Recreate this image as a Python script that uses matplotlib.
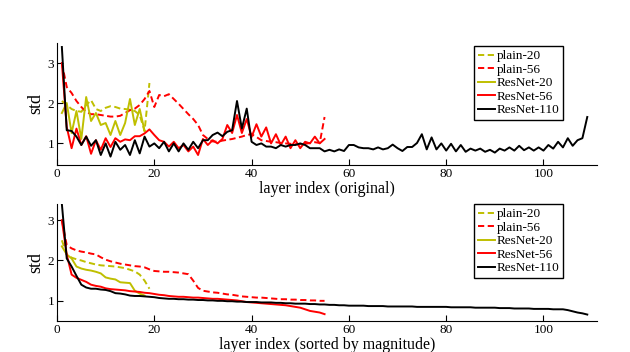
import matplotlib
matplotlib.use("Agg")
import matplotlib.pyplot as plt

plt.rcParams['font.family'] = ['Liberation Serif', 'DejaVu Serif']

# ---- original layer order (top panel) ----
plain20 = [2.05, 1.95, 1.85, 1.8, 1.78, 1.95, 2.07, 1.85, 1.8, 1.88,
           1.92, 1.9, 1.86, 1.85, 1.83, 1.8, 1.7, 1.3, 2.5]
plain56 = [3.0, 2.4, 2.25, 2.05, 1.9, 1.78, 1.72, 1.72, 1.7, 1.68,
           1.66, 1.66, 1.68, 1.75, 1.82, 1.86, 1.95, 2.1, 2.3, 1.9,
           2.2, 2.17, 2.22, 2.1, 1.98, 1.85, 1.72, 1.6, 1.45, 1.2,
           1.1, 1.04, 1.03, 1.06, 1.08, 1.1, 1.13, 1.16, 1.2, 1.22,
           1.15, 1.07, 1.05, 1.03, 1.02, 1.0, 0.99, 0.98, 0.97, 0.97,
           0.98, 1.0, 1.02, 1.0, 1.65]
resnet20 = [1.75, 2.0, 1.25, 1.8, 1.1, 2.15, 1.55, 1.75, 1.45, 1.5,
            1.2, 1.55, 1.2, 1.5, 2.1, 1.45, 1.85, 1.3]
resnet56 = [3.0, 1.4, 0.87, 1.36, 0.95, 1.17, 0.73, 1.07, 0.83, 1.12,
            0.9, 1.12, 1.03, 1.09, 1.07, 1.17, 1.17, 1.24, 1.34, 1.2,
            1.07, 1.03, 0.91, 1.03, 0.87, 0.95, 0.79, 0.91, 0.7, 1.1,
            0.95, 1.07, 0.99, 1.1, 1.45, 1.25, 1.7, 1.25, 1.6, 1.15,
            1.47, 1.16, 1.39, 0.99, 1.22, 0.95, 1.16, 0.87, 1.07, 0.87,
            1.03, 0.99, 1.16, 0.99, 1.1]
resnet110 = [3.4, 1.32, 1.3, 1.16, 0.95, 1.16, 0.93, 1.07, 0.7, 0.99,
             0.66, 1.03, 0.83, 0.95, 0.7, 1.07, 0.74, 1.16, 0.91, 0.99,
             0.87, 1.03, 0.79, 0.99, 0.79, 0.99, 0.83, 1.03, 0.87, 1.07,
             1.07, 1.2, 1.26, 1.17, 1.28, 1.32, 2.05, 1.36, 1.86, 1.03,
             0.95, 0.99, 0.91, 0.91, 0.87, 0.95, 0.91, 0.95, 0.95, 0.99,
             0.95, 0.87, 0.87, 0.87, 0.79, 0.83, 0.79, 0.84, 0.8, 0.95,
             0.95, 0.89, 0.87, 0.87, 0.84, 0.89, 0.84, 0.87, 0.96, 0.87,
             0.8, 0.9, 0.9, 1.0, 1.22, 0.84, 1.14, 0.84, 0.99, 0.81,
             0.98, 0.79, 0.95, 0.78, 0.86, 0.81, 0.86, 0.78, 0.83, 0.76,
             0.86, 0.81, 0.89, 0.81, 0.93, 0.82, 0.89, 0.81, 0.89, 0.81,
             0.95, 0.86, 1.03, 0.89, 1.12, 0.93, 1.07, 1.12, 1.65]

# ---- sorted by magnitude (bottom panel) ----
plain20_s = [2.5, 2.15, 2.07, 2.03, 2.0, 1.96, 1.93, 1.9, 1.88, 1.87,
             1.86, 1.85, 1.83, 1.81, 1.77, 1.73, 1.65, 1.5, 1.3]
plain56_s = [3.0, 2.38, 2.3, 2.25, 2.22, 2.2, 2.17, 2.15, 2.08, 2.02,
             1.98, 1.95, 1.92, 1.9, 1.88, 1.86, 1.85, 1.83, 1.78, 1.74,
             1.73, 1.72, 1.72, 1.71, 1.7, 1.68, 1.66, 1.5, 1.32, 1.25,
             1.23, 1.21, 1.2, 1.18, 1.16, 1.15, 1.13, 1.11, 1.1, 1.09,
             1.08, 1.08, 1.07, 1.06, 1.05, 1.04, 1.04, 1.03, 1.03, 1.02,
             1.02, 1.01, 1.01, 1.0, 1.0]
resnet20_s = [2.35, 2.15, 2.05, 1.85, 1.8, 1.77, 1.75, 1.72, 1.68, 1.58,
              1.55, 1.53, 1.46, 1.45, 1.44, 1.25, 1.18, 1.13]
resnet56_s = [3.0, 2.15, 1.65, 1.57, 1.52, 1.47, 1.4, 1.37, 1.35, 1.31,
              1.29, 1.28, 1.27, 1.26, 1.24, 1.23, 1.22, 1.2, 1.19, 1.17,
              1.15, 1.14, 1.12, 1.11, 1.1, 1.1, 1.09, 1.08, 1.08, 1.07,
              1.06, 1.05, 1.05, 1.04, 1.03, 1.02, 1.01, 0.99, 0.97, 0.96,
              0.95, 0.94, 0.93, 0.92, 0.91, 0.9, 0.89, 0.87, 0.85, 0.83,
              0.79, 0.75, 0.73, 0.71, 0.67]
resnet110_s = [3.4, 2.05, 1.85, 1.62, 1.4, 1.33, 1.3, 1.3, 1.28, 1.27,
               1.24, 1.19, 1.18, 1.16, 1.13, 1.12, 1.12, 1.11, 1.1, 1.09,
               1.07, 1.06, 1.05, 1.05, 1.04, 1.04, 1.03, 1.03, 1.02, 1.02,
               1.01, 1.01, 1.0, 1.0, 0.99, 0.99, 0.98, 0.98, 0.97, 0.97,
               0.97, 0.96, 0.96, 0.96, 0.95, 0.95, 0.94, 0.94, 0.93, 0.93,
               0.93, 0.92, 0.92, 0.91, 0.91, 0.9, 0.9, 0.89, 0.89, 0.88,
               0.88, 0.88, 0.88, 0.87, 0.87, 0.87, 0.87, 0.86, 0.86, 0.86,
               0.86, 0.86, 0.86, 0.85, 0.85, 0.85, 0.85, 0.85, 0.85, 0.85,
               0.84, 0.84, 0.84, 0.84, 0.84, 0.83, 0.83, 0.83, 0.83, 0.83,
               0.82, 0.82, 0.82, 0.81, 0.81, 0.81, 0.81, 0.8, 0.8, 0.8,
               0.8, 0.79, 0.79, 0.79, 0.77, 0.74, 0.71, 0.69, 0.66]

names = ['plain-20', 'plain-56', 'ResNet-20', 'ResNet-56', 'ResNet-110']
colors = ['#bfbf00', '#ff0000', '#bfbf00', '#ff0000', '#000000']
dashed = [True, True, False, False, False]

fig = plt.figure(figsize=(6.3, 3.52), dpi=100)
ax1 = fig.add_axes([57/630, 1-165/352, 540/630, 122/352])
ax2 = fig.add_axes([57/630, 1-321/352, 540/630, 117/352])


def draw(ax, series, ylim, xlabel, legend_top):
    for vals, name, c, d in zip(series, names, colors, dashed):
        x = range(1, len(vals) + 1)
        if d:
            ax.plot(x, vals, color=c, lw=1.4, ls=(0, (3.2, 1.8)), label=name)
        else:
            ax.plot(x, vals, color=c, lw=1.4, label=name)
    ax.set_xlim(0, 111)
    ax.set_ylim(*ylim)
    ax.set_xticks([0, 20, 40, 60, 80, 100])
    ax.set_yticks([1, 2, 3])
    ax.spines['top'].set_visible(False)
    ax.spines['right'].set_visible(False)
    ax.tick_params(direction='in', length=4, labelsize=9.5, pad=2)
    ax.set_ylabel('std', fontsize=13, labelpad=2)
    ax.set_xlabel(xlabel, fontsize=11.5, labelpad=1)
    leg = ax.legend(loc='upper right', bbox_to_anchor=(563/630, 1-legend_top/352),
                    bbox_transform=fig.transFigure, fontsize=9.5, frameon=True,
                    fancybox=False, edgecolor='black', framealpha=1,
                    handlelength=1.3, handletextpad=0.1, labelspacing=0.1,
                    borderpad=0.3, borderaxespad=0)
    leg.get_frame().set_linewidth(1.0)


draw(ax1, [plain20, plain56, resnet20, resnet56, resnet110], (0.45, 3.5),
     'layer index (original)', 46)
draw(ax2, [plain20_s, plain56_s, resnet20_s, resnet56_s, resnet110_s], (0.5, 3.4),
     'layer index (sorted by magnitude)', 204)

fig.savefig('out.png', dpi=100)
